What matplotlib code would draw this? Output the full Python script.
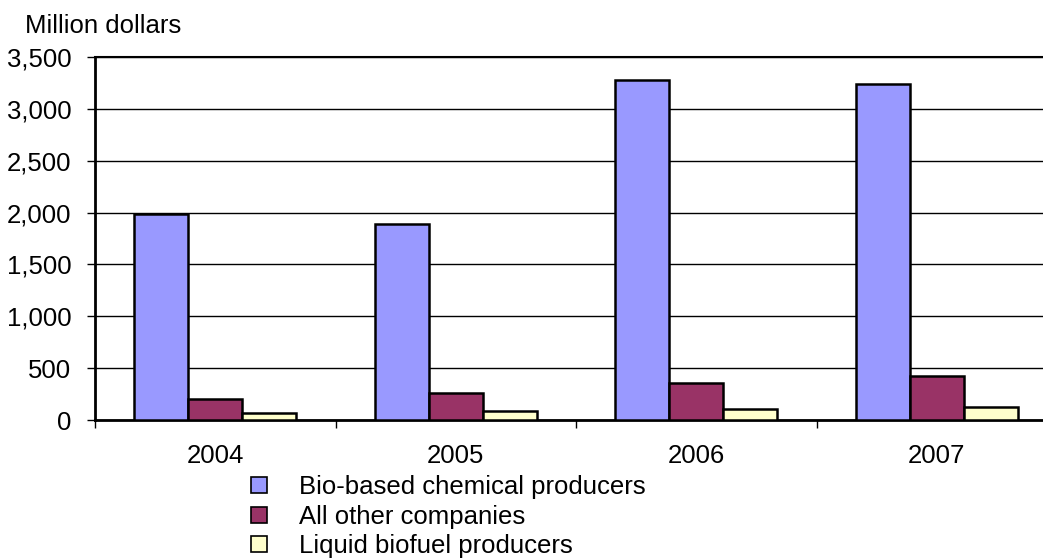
import numpy as np
import matplotlib.pyplot as plt
from matplotlib.lines import Line2D
from matplotlib.ticker import FuncFormatter

plt.rcParams["font.family"] = ["Liberation Sans", "DejaVu Sans"]

years = ["2004", "2005", "2006", "2007"]
series_names = ["Bio-based chemical producers", "All other companies", "Liquid biofuel producers"]
bio_based = [1990, 1890, 3280, 3240]
all_other = [200, 260, 360, 420]
liquid_biofuel = [65, 85, 105, 125]
colors = ["#9999FF", "#993366", "#FFFFCC"]

fig = plt.figure(figsize=(10.43, 5.6), dpi=100)
# plot area runs a little past the right edge of the figure
ax = fig.add_axes([95 / 1043, 140 / 560, 962 / 1043, 363 / 560])

x = np.arange(len(years))
width = 0.225
for i, (vals, col) in enumerate(zip([bio_based, all_other, liquid_biofuel], colors)):
    ax.bar(x + (i - 1) * width, vals, width, color=col, edgecolor="black",
           linewidth=1.8, zorder=3)

ax.set_xlim(-0.5, len(years) - 0.5)
ax.set_ylim(0, 3500)
ax.set_yticks(np.arange(0, 3501, 500))
ax.yaxis.set_major_formatter(FuncFormatter(lambda v, p: f"{int(v):,}"))
ax.grid(axis="y", color="black", linewidth=1.0, zorder=0)

ax.set_xticks(x)
ax.set_xticklabels(years)
ax.set_xticks(np.arange(-0.5, len(years)), minor=True)
ax.tick_params(axis="x", which="major", length=0, pad=17.5, labelsize=18.5)
ax.tick_params(axis="x", which="minor", length=6, width=1.0, direction="out")
ax.tick_params(axis="y", length=6, width=1.0, pad=11, labelsize=18.5)

for s in ["left", "bottom"]:
    ax.spines[s].set_linewidth(2.0)
ax.spines["top"].set_linewidth(1.5)
ax.spines["right"].set_visible(False)

fig.text(25 / 1043, 1 - 33 / 560, "Million dollars", fontsize=18.5, va="baseline", ha="left")

handles = [Line2D([], [], marker="s", linestyle="none", markersize=12,
                  markerfacecolor=c, markeredgecolor="black", markeredgewidth=1.2)
           for c in colors]
fig.legend(handles, series_names, loc="upper left",
           bbox_to_anchor=(246 / 1043, 1 - 475 / 560), frameon=False,
           fontsize=18.5, handlelength=1.0, handletextpad=1.05, labelspacing=0.22,
           borderaxespad=0, borderpad=0)

fig.savefig("out.png", dpi=100)
